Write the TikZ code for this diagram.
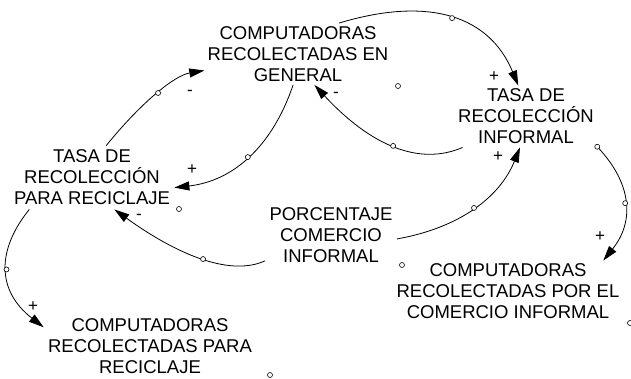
\documentclass[tikz,border=0pt]{standalone}
\usepackage{fontspec}
\setmainfont{Liberation Sans}
\usetikzlibrary{arrows.meta}
\begin{document}
\begin{tikzpicture}[x=1pt,y=-1pt,->,>={Triangle[length=15pt,width=9pt]},line width=0.8pt,
    var/.style={align=center,inner sep=3pt,font=\fontsize{18.5}{21}\selectfont},
    handle/.style={-,circle,draw,fill=white,inner sep=0pt,minimum size=5pt,line width=0.6pt},
    sgn/.style={inner sep=0pt,font=\fontsize{17}{17}\selectfont}]
    \useasboundingbox (0,0) rectangle (631,378);
    \node[var] (gen) at (298,54) {COMPUTADORAS\\RECOLECTADAS EN\\GENERAL};
    \node[var] (tri) at (526,116.5) {TASA DE\\RECOLECCIÓN\\INFORMAL};
    \node[var,inner sep=4pt] (trr) at (92,177.5) {TASA DE\\RECOLECCIÓN\\PARA RECICLAJE};
    \node[var,inner sep=4pt] (pci) at (331,235.5) {PORCENTAJE\\COMERCIO\\INFORMAL};
    \node[var] (cri) at (508,291.5) {COMPUTADORAS\\RECOLECTADAS POR EL\\COMERCIO INFORMAL};
    \node[var,inner sep=4pt] (crr) at (150,346) {COMPUTADORAS\\RECOLECTADAS PARA\\RECICLAJE};
    \draw (trr.66) .. controls (142.7,100.7) and (175.3,75.3) .. node[handle,pos=.5] (h1) {} (gen.190);
    \draw (gen.261) .. controls (272,147) and (233,181) .. node[handle,pos=.5] (h2) {} (trr.353);
    \draw (gen.37) .. controls (430,-4.3) and (489.7,16.3) .. node[handle,pos=.5] (h3) {} (tri.104);
    \draw (tri.206) .. controls (419,166.3) and (370.3,145.3) .. node[handle,pos=.5] (h4) {} (gen.298);
    \draw (pci.357) .. controls (458.7,228) and (499.7,197.7) .. node[handle,pos=.5] (h5) {} (tri.259);
    \draw (pci.201) .. controls (232.7,275.7) and (182.3,258.3) .. node[handle,pos=.5] (h6) {} (trr.305);
    \draw (trr.207) .. controls (-3,249.3) and (-4,290.3) .. node[handle,pos=.5] (h7) {} (crr.170);
    \draw (tri.337) .. controls (632.7,184) and (634.3,222) .. node[handle,pos=0] (h8a) {} node[handle,pos=.5] (h8) {} (cri.18);
    \node[sgn] (s1) at (190,93) {-};
    \node[sgn] (s2) at (192,170) {+};
    \node[sgn] (s3) at (494,77) {+};
    \node[sgn] (s4) at (336,95) {-};
    \node[sgn] (s5) at (498,157) {+};
    \node[sgn] (s6) at (139,217) {-};
    \node[sgn] (s7) at (33,307) {+};
    \node[sgn] (s8) at (600,237) {+};
    \node[handle] (d1) at (398,86) {};
    \node[handle] (d2) at (402,265) {};
    \node[handle] (d3) at (270,375) {};
    \node[handle] (d4) at (179,209) {};
    \node[handle] (d5) at (630,323) {};
\end{tikzpicture}
\end{document}
